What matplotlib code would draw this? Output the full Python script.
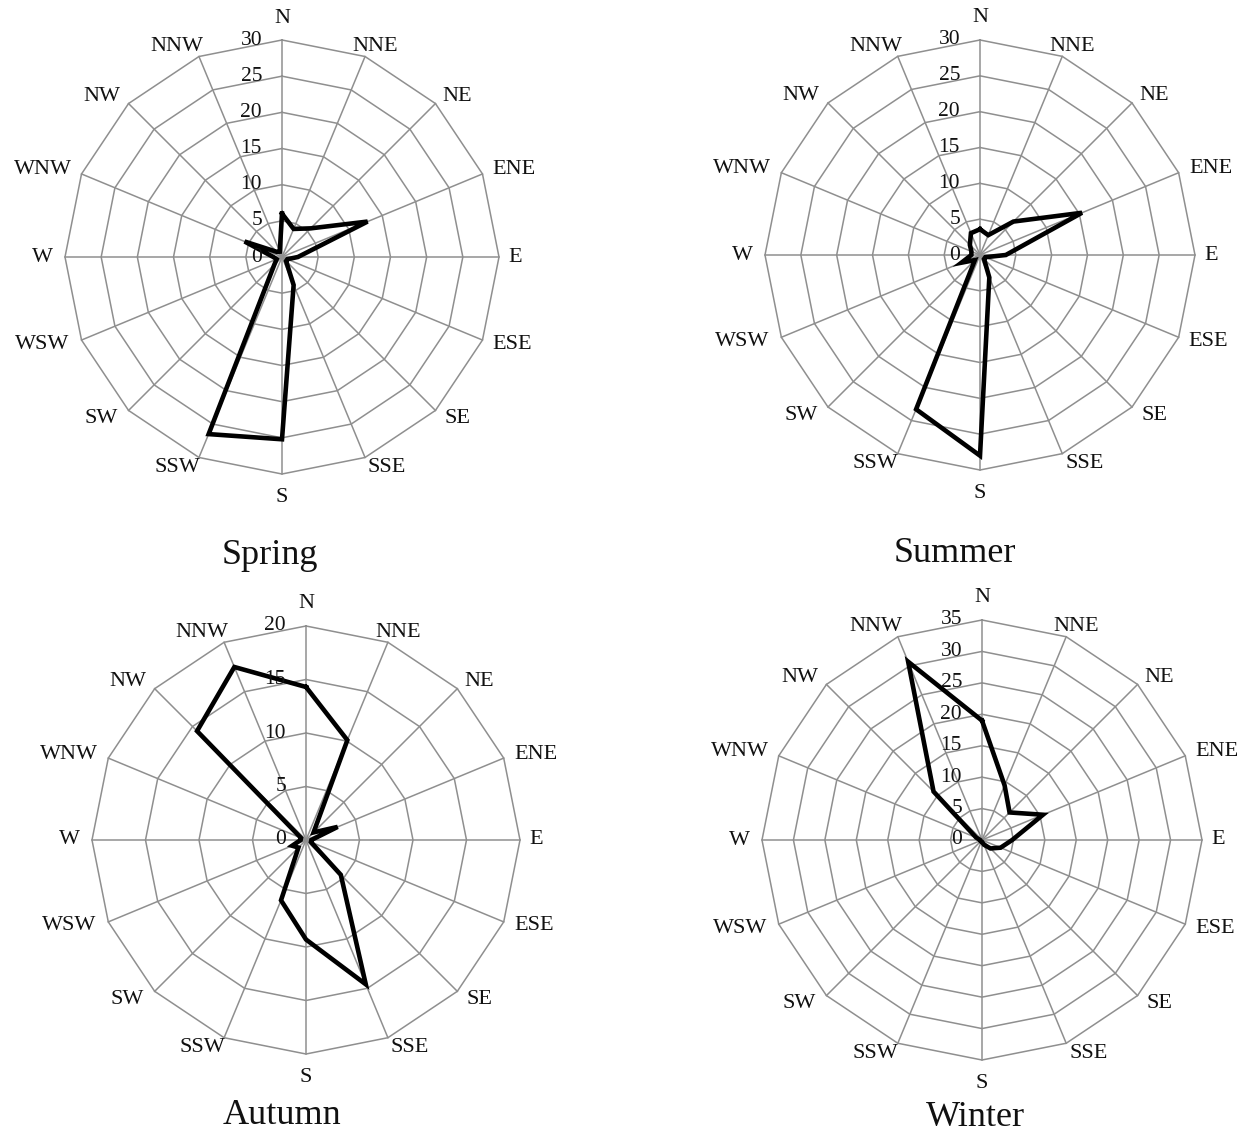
import numpy as np
import matplotlib
matplotlib.use("Agg")
import matplotlib.pyplot as plt

directions = ['N', 'NNE', 'NE', 'ENE', 'E', 'ESE', 'SE', 'SSE',
              'S', 'SSW', 'SW', 'WSW', 'W', 'WNW', 'NW', 'NNW']

spring = [6.0, 4.2, 5.6, 12.8, 2.2, 0.8, 0.8, 4.2, 25.2, 26.5, 1.5, 0.8, 1.2, 5.6, 1.0, 0.8]
summer = [3.6, 3.0, 6.6, 15.4, 3.6, 0.8, 0.8, 3.4, 28.0, 23.3, 1.0, 2.8, 1.2, 1.3, 2.0, 3.3]
autumn = [14.3, 10.1, 1.0, 3.2, 0.5, 0.5, 4.6, 14.6, 9.3, 6.1, 1.0, 1.4, 0.5, 0.5, 14.4, 17.5]
winter = [19.0, 9.4, 6.2, 10.5, 4.8, 3.2, 1.9, 0.8, 0.3, 0.3, 0.3, 0.3, 0.3, 1.0, 10.9, 30.7]

seasons = ['Spring', 'Summer', 'Autumn', 'Winter']
rmax_values = [30, 30, 20, 35]
ring_step = 5

plt.rcParams['font.family'] = ['Liberation Serif', 'DejaVu Serif']

W, H = 1247, 1135
fig = plt.figure(figsize=(W / 100, H / 100), dpi=100)

# (center x px, center y px from top, radius px, title x, title y)
layout = [
    (282, 257, 217, 270, 556),
    (980, 255, 215, 955, 554),
    (306, 840, 214, 282, 1115),
    (982, 840, 220, 975, 1117),
]

# label centre offsets from the outer ring vertex, in pixels (x right, y down)
label_offsets = [(0, -22), (10, -10), (22, -7), (32, -4), (16, 0), (30, 4),
                 (22, 8), (22, 10), (0, 23), (-22, 10), (-27, 8), (-39, 4),
                 (-23, 0), (-39, -4), (-27, -7), (-22, -10)]

theta = np.deg2rad(np.arange(16) * 22.5)
grid_color = '#8f8f8f'

for season, data, rmax, (cx, cy, R, tx, ty) in zip(
        seasons, [spring, summer, autumn, winter], rmax_values, layout):
    half = 300
    scale = R / rmax
    L = half / scale
    ax = fig.add_axes([(cx - half) / W, (H - cy - half) / H, 2 * half / W, 2 * half / H])
    ax.set_xlim(-L, L)
    ax.set_ylim(-L, L)
    ax.set_aspect('equal')
    ax.axis('off')
    ax.patch.set_alpha(0)

    s, c = np.sin(theta), np.cos(theta)
    # rings
    for r in np.arange(ring_step, rmax + 0.01, ring_step):
        xs = np.append(r * s, r * s[0])
        ys = np.append(r * c, r * c[0])
        ax.plot(xs, ys, color=grid_color, lw=1.1, zorder=1)
    # spokes
    for si, ci in zip(s, c):
        ax.plot([0, rmax * si], [0, rmax * ci], color=grid_color, lw=1.1, zorder=1)

    # data
    d = np.array(data)
    xs = np.append(d * s, d[0] * s[0])
    ys = np.append(d * c, d[0] * c[0])
    ax.plot(xs, ys, color='black', lw=3.3, solid_joinstyle='miter', zorder=3)

    # tick labels
    off = 20 / scale
    for r in np.arange(0, rmax + 0.01, ring_step):
        ax.text(-off, r, f'{int(r)}', ha='right', va='center', fontsize=15.5,
                color='#111111', zorder=4)

    # direction labels
    for lab, si, ci, (ox, oy) in zip(directions, s, c, label_offsets):
        ax.text(rmax * si + ox / scale, rmax * ci - oy / scale, lab,
                ha='center', va='center', fontsize=16, color='#111111',
                clip_on=False)

    fig.text(tx / W, 1 - ty / H, season, ha='center', va='center', fontsize=26,
             color='#111111')

fig.savefig('out.png', dpi=100)
